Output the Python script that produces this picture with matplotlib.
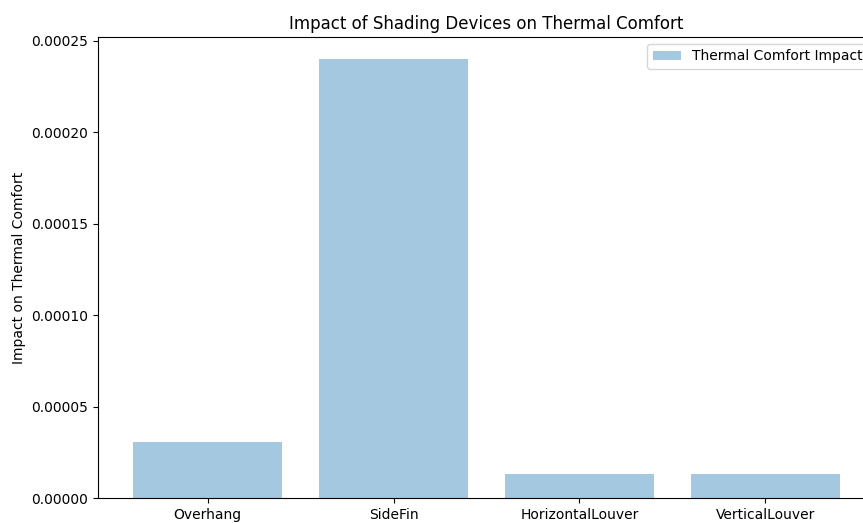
import matplotlib.pyplot as plt

# Shading device categories and their effect on thermal comfort
devices = ['Overhang', 'SideFin', 'HorizontalLouver', 'VerticalLouver']
impact = [3.07e-5, 2.40e-4, 1.32e-5, 1.32e-5]

W, H = 863, 523
fig = plt.figure(figsize=(W / 100, H / 100), dpi=100)
# original figure was cropped on the right, so the axes run past the edge
ax = fig.add_axes([98 / W, (H - 498) / H, (875 - 98) / W, (498 - 37) / H])

ax.bar(devices, impact, color='#1f77b4', alpha=0.4, label='Thermal Comfort Impact')
ax.set_ylabel('Impact on Thermal Comfort')
ax.set_title('Impact of Shading Devices on Thermal Comfort')
ax.legend(loc='upper right')

fig.savefig('out.png', dpi=100)
